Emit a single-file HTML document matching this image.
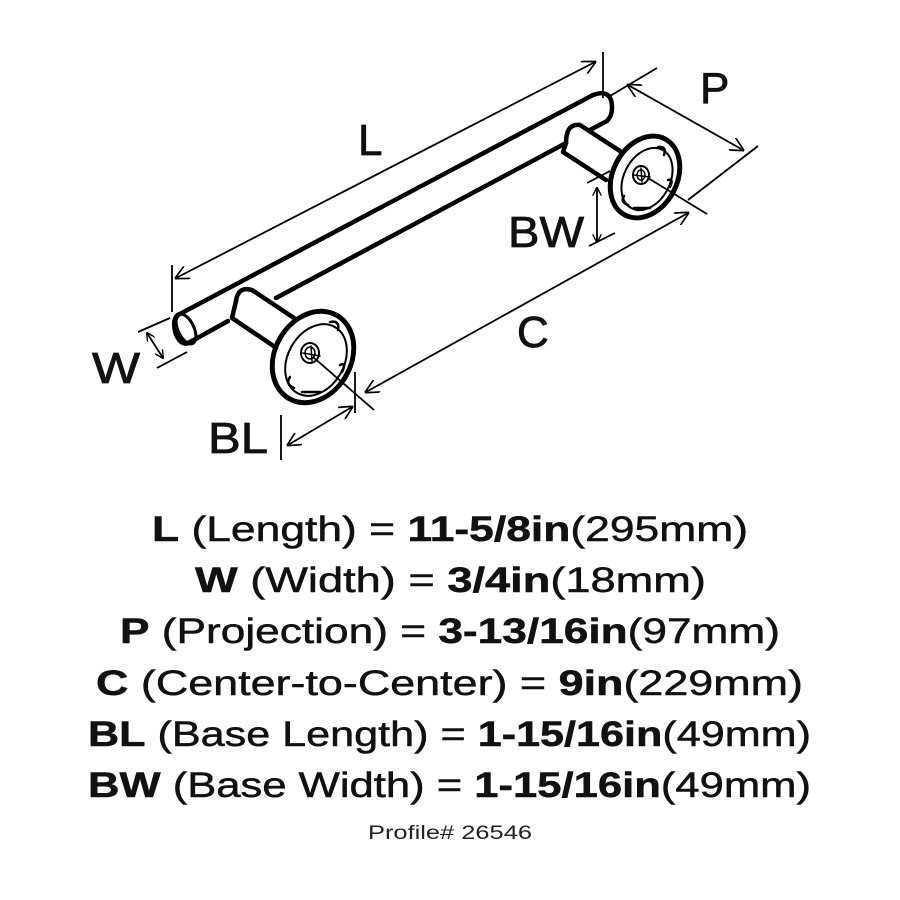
<!DOCTYPE html>
<html><head><meta charset="utf-8"><style>
html,body{margin:0;padding:0;background:#fff;}
svg{display:block;}
</style></head><body>
<svg width="900" height="900" viewBox="0 0 900 900" xmlns="http://www.w3.org/2000/svg">
<defs>
<marker id="a" viewBox="0 0 10 10" refX="9" refY="5" markerWidth="9" markerHeight="9" orient="auto-start-reverse" markerUnits="userSpaceOnUse">
<path d="M0,0 L10,5 L0,10" fill="none" stroke="#000" stroke-width="1.5"/>
</marker>
<marker id="b" viewBox="0 0 10 10" refX="9" refY="5" markerWidth="14" markerHeight="14" orient="auto-start-reverse" markerUnits="userSpaceOnUse">
<path d="M0,0 L10,5 L0,10" fill="none" stroke="#000" stroke-width="1.2"/>
</marker>
</defs>
<g fill="none" stroke="#000" stroke-linecap="round" stroke-linejoin="round">
<path d="M178,315 L593,95 Q612,88 612,108 Q612,116 607,121 L590,130" stroke-width="4.5"/>
<path d="M566,143 L276,298" stroke-width="4.5"/>
<path d="M228,321 L192,341" stroke-width="4.5"/>
<path d="M178,315 Q172,320 176,334 Q182,348 192,341" stroke-width="5"/>
<ellipse cx="186" cy="329" rx="8" ry="16" transform="rotate(-25 186 329)" stroke-width="3"/>
<path d="M236,301 Q238,286 252,290 L300,322" stroke-width="4.5"/>
<path d="M236,301 L232,318 L275,347" stroke-width="4.5"/>
<ellipse cx="313" cy="357" rx="38" ry="48" transform="rotate(30 313 357)" stroke-width="5" fill="#fff"/>
<ellipse cx="316" cy="360" rx="28" ry="38" transform="rotate(30 316 360)" stroke-width="2"/>
<ellipse cx="310" cy="353" rx="9" ry="10" stroke-width="2"/>
<ellipse cx="310" cy="353" rx="5" ry="6" stroke-width="1.5"/>
<path d="M303,353 L320,356 M311,346 L312,361" stroke-width="1.5"/>
<path d="M330,322 Q340,320 338,330 M340,365 Q347,362 342,372 M290,377 Q285,384 294,388 M302,392 L320,392" stroke-width="2.5"/>
<path d="M566,143 Q566,123 580,125 L623,153" stroke-width="4.5"/>
<path d="M566,143 L563,152 L606,180" stroke-width="4.5"/>
<ellipse cx="645" cy="177" rx="32" ry="43" transform="rotate(28 645 177)" stroke-width="5" fill="#fff"/>
<ellipse cx="647" cy="179" rx="23" ry="33" transform="rotate(28 647 179)" stroke-width="2"/>
<ellipse cx="641" cy="175" rx="8" ry="9" stroke-width="2"/>
<ellipse cx="641" cy="175" rx="4" ry="5" stroke-width="1.5"/>
<path d="M634,175 L650,177 M641,168 L642,182" stroke-width="1.5"/>
<path d="M658,147 Q667,146 664,155 M668,180 Q674,178 670,187 M624,196 Q620,202 628,205 M634,208 L650,208" stroke-width="2.5"/>
</g>
<g fill="none" stroke="#000" stroke-width="1.8">
<line x1="172" y1="265" x2="172" y2="312"/>
<line x1="603" y1="52" x2="603" y2="98"/>
<line x1="176" y1="278" x2="595" y2="62" marker-start="url(#b)" marker-end="url(#b)"/>
<line x1="610" y1="96" x2="657" y2="68"/>
<line x1="688" y1="200" x2="758" y2="146"/>
<line x1="628" y1="85" x2="743" y2="150" marker-start="url(#b)" marker-end="url(#b)"/>
<line x1="648" y1="178" x2="707" y2="214"/>
<line x1="313" y1="357" x2="374" y2="410"/>
<line x1="366" y1="392" x2="688" y2="213" marker-start="url(#b)" marker-end="url(#b)"/>
<line x1="587" y1="183" x2="610" y2="171"/>
<line x1="589" y1="246" x2="615" y2="233"/>
<line x1="597" y1="188" x2="597" y2="242" marker-start="url(#a)" marker-end="url(#a)"/>
<line x1="281" y1="415" x2="281" y2="460"/>
<line x1="355" y1="372" x2="355" y2="413"/>
<line x1="288" y1="445" x2="352" y2="407" marker-start="url(#b)" marker-end="url(#b)"/>
<line x1="138" y1="332" x2="170" y2="318"/>
<line x1="157" y1="368" x2="187" y2="352"/>
<line x1="147" y1="333" x2="163" y2="358" marker-start="url(#a)" marker-end="url(#a)"/>
</g>
<g font-family="Liberation Sans, sans-serif" font-size="44" fill="#111" stroke="#111" stroke-width="0.8">
<text x="358" y="155">L</text>
<text x="700" y="103">P</text>
<text x="508" y="247" textLength="76" lengthAdjust="spacingAndGlyphs">BW</text>
<text x="517" y="347">C</text>
<text x="92" y="383" textLength="48" lengthAdjust="spacingAndGlyphs">W</text>
<text x="208" y="453" textLength="60" lengthAdjust="spacingAndGlyphs">BL</text>
</g>
<g font-family="Liberation Sans, sans-serif" font-size="35" fill="#111" stroke="#111" stroke-width="0.5">
<text x="152" y="541" textLength="596" lengthAdjust="spacingAndGlyphs"><tspan font-weight="bold">L</tspan> (Length) = <tspan font-weight="bold">11-5/8in</tspan>(295mm)</text>
<text x="195" y="592" textLength="511" lengthAdjust="spacingAndGlyphs"><tspan font-weight="bold">W</tspan> (Width) = <tspan font-weight="bold">3/4in</tspan>(18mm)</text>
<text x="120" y="643" textLength="660" lengthAdjust="spacingAndGlyphs"><tspan font-weight="bold">P</tspan> (Projection) = <tspan font-weight="bold">3-13/16in</tspan>(97mm)</text>
<text x="96" y="695" textLength="707" lengthAdjust="spacingAndGlyphs"><tspan font-weight="bold">C</tspan> (Center-to-Center) = <tspan font-weight="bold">9in</tspan>(229mm)</text>
<text x="88" y="746" textLength="723" lengthAdjust="spacingAndGlyphs"><tspan font-weight="bold">BL</tspan> (Base Length) = <tspan font-weight="bold">1-15/16in</tspan>(49mm)</text>
<text x="88" y="797" textLength="723" lengthAdjust="spacingAndGlyphs"><tspan font-weight="bold">BW</tspan> (Base Width) = <tspan font-weight="bold">1-15/16in</tspan>(49mm)</text>
<text x="368" y="839" font-size="19" stroke-width="0" textLength="164" lengthAdjust="spacingAndGlyphs" fill="#222">Profile# 26546</text>
</g>
</svg>
</body></html>
